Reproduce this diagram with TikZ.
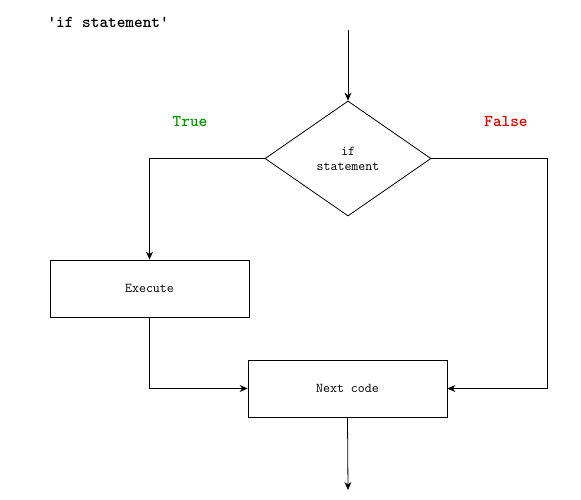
\documentclass[tikz,border=0pt]{standalone}
\usepackage{fontspec}
\usetikzlibrary{arrows.meta,shapes.geometric}
\definecolor{truegreen}{RGB}{0,153,0}
\definecolor{falsered}{RGB}{220,0,0}
\tikzset{
  box/.style={draw, line width=0.8pt, minimum width=199pt, minimum height=57pt, inner sep=0pt, font=\ttfamily\fontsize{13.5}{15}\selectfont},
  decision/.style={draw, line width=0.8pt, diamond, minimum width=166pt, minimum height=115pt, inner sep=0pt, aspect=1.44, font=\ttfamily\fontsize{13.5}{15}\selectfont, align=center},
  flow/.style={draw, line width=0.8pt, -{Stealth[length=8pt,width=7pt]}},
  lbl/.style={font=\ttfamily\bfseries\fontsize{16.5}{19}\selectfont}
}
\begin{document}
\begin{tikzpicture}[x=1pt,y=-1pt]
\useasboundingbox (0,0) rectangle (581,500);
\node[lbl, anchor=west] (title) at (44,22) {'if statement'};
\coordinate (start) at (348,30);
\node[decision] (dec) at (348,158.5) {if\\statement};
\node[lbl, text=truegreen] (t) at (190,122) {True};
\node[lbl, text=falsered] (f) at (506,122) {False};
\node[box] (exec) at (149.5,288.5) {Execute};
\node[box] (next) at (347.5,388.5) {Next code};
\coordinate (end) at (348,490);
\coordinate (lc) at (149.5,158.5);
\coordinate (rc) at (547,158.5);
\draw[flow] (start) -- (dec.north);
\draw[flow] (dec.west) -- (lc) -- (exec.north);
\draw[flow] (exec.south) |- (next.west);
\draw[flow] (dec.east) -- (rc) |- (next.east);
\draw[flow] (next.south) -- (end);
\end{tikzpicture}
\end{document}
